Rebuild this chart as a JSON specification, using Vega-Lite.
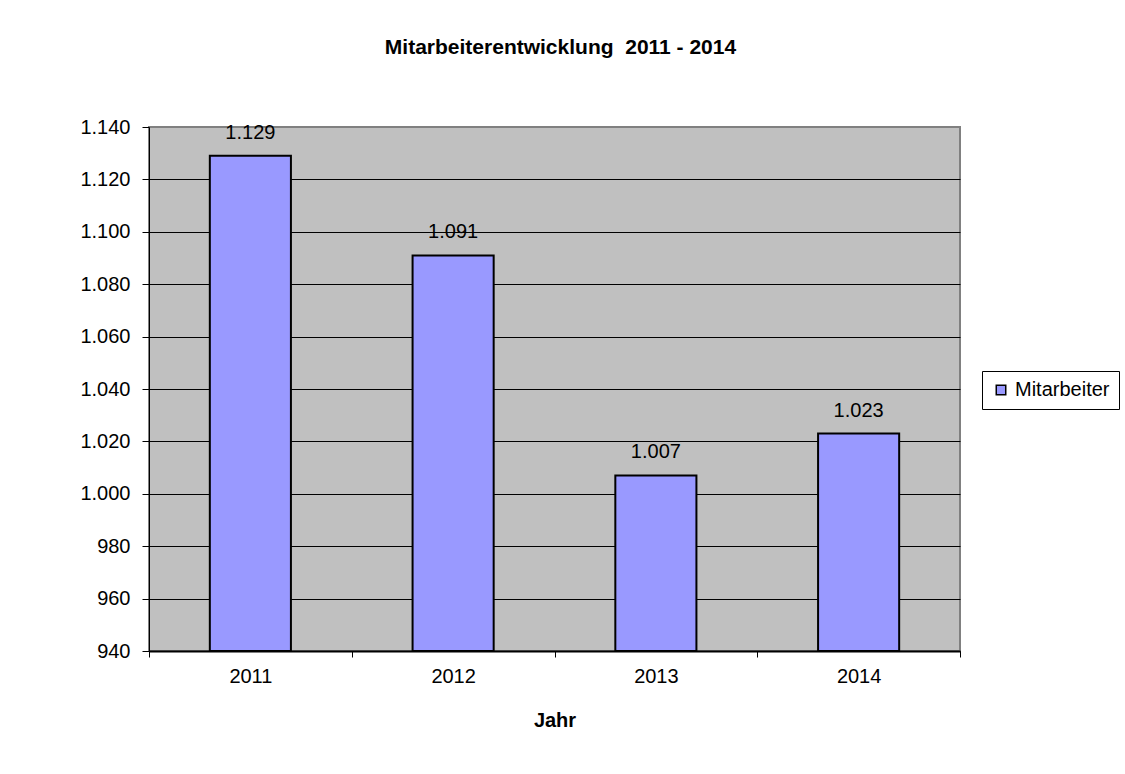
{
  "$schema": "https://vega.github.io/schema/vega-lite/v6.json",
  "autosize": {"type": "none"},
  "width": 811,
  "height": 524,
  "padding": {"left": 149, "top": 127, "right": 165, "bottom": 123},
  "background": "white",
  "config": {
    "font": "Liberation Sans",
    "locale": {"number": {"decimal": ",", "thousands": ".", "grouping": [3], "currency": ["", " €"]}},
    "view": {"fill": "#C0C0C0", "stroke": "#808080", "strokeWidth": 2}
  },
  "title": {
    "text": "Mitarbeiterentwicklung\u00a0 2011 - 2014",
    "font": "Liberation Sans",
    "fontSize": 21,
    "fontWeight": "bold",
    "color": "black",
    "anchor": "middle",
    "dx": 6,
    "offset": 59
  },
  "data": {
    "values": [
      {"Jahr": "2011", "Mitarbeiter": 1129, "Serie": "Mitarbeiter"},
      {"Jahr": "2012", "Mitarbeiter": 1091, "Serie": "Mitarbeiter"},
      {"Jahr": "2013", "Mitarbeiter": 1007, "Serie": "Mitarbeiter"},
      {"Jahr": "2014", "Mitarbeiter": 1023, "Serie": "Mitarbeiter"}
    ]
  },
  "encoding": {
    "x": {
      "field": "Jahr",
      "type": "nominal",
      "scale": {"paddingInner": 0, "paddingOuter": 0},
      "axis": {
        "title": "Jahr",
        "labelAngle": 0,
        "labelFont": "Liberation Sans",
        "labelFontSize": 20,
        "labelColor": "black",
        "labelPadding": 9,
        "tickBand": "extent",
        "tickColor": "black",
        "tickSize": 6,
        "domainColor": "black",
        "domainWidth": 2,
        "titleFont": "Liberation Sans",
        "titleFontSize": 20,
        "titleFontWeight": "bold",
        "titleColor": "black",
        "titlePadding": 24
      }
    },
    "y": {
      "field": "Mitarbeiter",
      "type": "quantitative",
      "scale": {"domain": [940, 1140], "zero": false, "nice": false},
      "axis": {
        "title": null,
        "values": [940, 960, 980, 1000, 1020, 1040, 1060, 1080, 1100, 1120, 1140],
        "format": ",d",
        "labelFont": "Liberation Sans",
        "labelFontSize": 20,
        "labelColor": "black",
        "labelPadding": 12,
        "tickColor": "black",
        "tickSize": 7,
        "domainColor": "black",
        "domainWidth": 1,
        "grid": true,
        "gridColor": {"condition": {"test": "datum.value == 1140", "value": "#808080"}, "value": "black"},
        "gridWidth": 1,
        "gridOpacity": 1
      }
    }
  },
  "layer": [
    {
      "mark": {"type": "bar", "stroke": "black", "strokeWidth": 2, "width": {"band": 0.4}},
      "encoding": {
        "y2": {"datum": 940},
        "color": {
          "field": "Serie",
          "type": "nominal",
          "scale": {"range": ["#9999FF"]},
          "legend": {
            "title": null,
            "orient": "none",
            "legendX": 833,
            "legendY": 244,
            "strokeColor": "black",
            "fillColor": "white",
            "padding": 9,
            "symbolType": "square",
            "symbolSize": 90,
            "symbolStrokeColor": "black",
            "symbolStrokeWidth": 1.5,
            "symbolOpacity": 1,
            "labelFont": "Liberation Sans",
            "labelFontSize": 20,
            "labelColor": "black",
            "labelOffset": 4
          }
        }
      }
    },
    {
      "mark": {"type": "text", "baseline": "alphabetic", "dy": -17, "font": "Liberation Sans", "fontSize": 20, "color": "black"},
      "encoding": {
        "text": {"field": "Mitarbeiter", "type": "quantitative", "format": ",d"}
      }
    }
  ]
}
